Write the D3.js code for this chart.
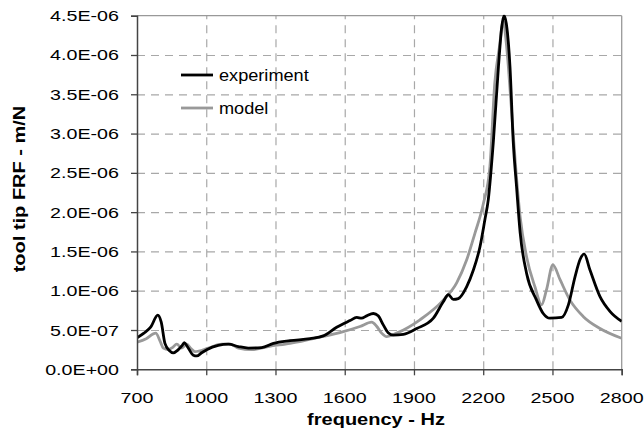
<!DOCTYPE html>
<html><head><meta charset="utf-8">
<script src="https://cdn.jsdelivr.net/npm/d3@7"></script>
<style>body{margin:0;background:#fff}svg{display:block}text{font-family:"Liberation Sans",Arial,sans-serif;fill:#000}</style>
</head><body><svg id="c" width="644" height="435"></svg>
<script>
const expFreq = [700,730,760,790,805,821,840,857,879,895,905,920,944,959,980,1002,1052,1096,1139,1182,1240,1291,1363,1450,1507,1565,1623,1652,1673,1695,1724,1745,1767,1788,1810,1854,1912,1984,2027,2049,2070,2092,2128,2157,2186,2207,2222,2244,2266,2280,2290,2300,2316,2330,2345,2360,2388,2431,2460,2489,2540,2569,2598,2620,2637,2663,2706,2750,2800];
const expVal = [4.0e-7,4.6e-7,5.4e-7,6.9e-7,6.0e-7,3.3e-7,2.4e-7,2.1e-7,2.5e-7,3.0e-7,3.4e-7,2.8e-7,1.8e-7,1.7e-7,2.1e-7,2.5e-7,3.05e-7,3.2e-7,2.9e-7,2.7e-7,2.75e-7,3.3e-7,3.65e-7,3.9e-7,4.25e-7,5.35e-7,6.2e-7,6.6e-7,6.5e-7,6.8e-7,7.1e-7,6.8e-7,5.65e-7,4.65e-7,4.35e-7,4.45e-7,5.2e-7,6.5e-7,8.6e-7,9.5e-7,8.9e-7,9.0e-7,1.05e-6,1.26e-6,1.56e-6,1.90e-6,2.16e-6,2.9e-6,3.85e-6,4.35e-6,4.5e-6,4.4e-6,3.85e-6,2.9e-6,2.3e-6,1.74e-6,1.22e-6,8.8e-7,7.1e-7,6.5e-7,6.6e-7,8.2e-7,1.18e-6,1.40e-6,1.47e-6,1.26e-6,9.25e-7,7.35e-7,6.1e-7];
const modFreq = [700,740,781,800,814,836,855,872,894,915,935,951,1009,1067,1103,1139,1197,1269,1363,1493,1594,1666,1717,1739,1760,1782,1825,1926,2027,2085,2128,2164,2200,2229,2250,2270,2287,2300,2309,2325,2340,2360,2388,2424,2453,2474,2502,2533,2576,2634,2706,2800];
const modVal = [3.45e-7,3.9e-7,4.6e-7,3.6e-7,2.7e-7,2.5e-7,2.8e-7,3.2e-7,2.7e-7,3.2e-7,2.6e-7,2.25e-7,2.7e-7,3.2e-7,3.2e-7,2.7e-7,2.5e-7,2.9e-7,3.3e-7,4.1e-7,4.8e-7,5.45e-7,6.0e-7,5.45e-7,4.6e-7,4.15e-7,4.6e-7,6.3e-7,8.8e-7,1.1e-6,1.39e-6,1.73e-6,2.1e-6,2.58e-6,3.64e-6,4.1e-6,4.43e-6,4.15e-6,3.85e-6,3.2e-6,2.6e-6,1.94e-6,1.43e-6,1.05e-6,8.2e-7,1.01e-6,1.33e-6,1.14e-6,8.8e-7,6.7e-7,5.2e-7,3.95e-7];
const xTicks = [700,1000,1300,1600,1900,2200,2500,2800];
const yTicks = [0,5e-7,1e-6,1.5e-6,2e-6,2.5e-6,3e-6,3.5e-6,4e-6,4.5e-6];
const yTickLabels = ["0.0E+00","5.0E-07","1.0E-06","1.5E-06","2.0E-06","2.5E-06","3.0E-06","3.5E-06","4.0E-06","4.5E-06"];
const seriesNames = ["experiment","model"];
const seriesColors = ["#000000","#999999"];

const svg = d3.select("#c");
const L=137, R=621.7, T=15.7, B=369.3;
const x = d3.scaleLinear().domain([700,2800]).range([L,R]);
const y = d3.scaleLinear().domain([0,4.5e-6]).range([B,T]);
const SX = 1.27;

// grid via axes
svg.append("g").attr("class","grid").attr("transform",`translate(${L},0)`)
  .call(d3.axisLeft(y).tickValues(yTicks.slice(1,-1)).tickSize(-(R-L)).tickFormat(""));
svg.append("g").attr("class","grid").attr("transform",`translate(0,${B})`)
  .call(d3.axisBottom(x).tickValues(xTicks.slice(1,-1)).tickSize(-(B-T)).tickFormat(""));
svg.selectAll(".grid .domain").remove();
svg.selectAll(".grid .tick line").attr("stroke","#a8a8a8").attr("stroke-width",1.2).attr("stroke-dasharray","8,6");

// top/right border
svg.append("line").attr("x1",L).attr("x2",R).attr("y1",T).attr("y2",T).attr("stroke","#999").attr("stroke-width",1.3);
svg.append("line").attr("x1",R).attr("x2",R).attr("y1",T).attr("y2",B).attr("stroke","#999").attr("stroke-width",1.3);

// lines
const line = (fr,vals)=>d3.line().curve(d3.curveMonotoneX).x((d,i)=>x(fr[i])).y(d=>y(d))(vals);
svg.append("clipPath").attr("id","cp").append("rect").attr("x",L).attr("y",T-1).attr("width",R-L).attr("height",B-T+1);
svg.append("path").attr("d",line(modFreq,modVal)).attr("fill","none").attr("stroke",seriesColors[1]).attr("stroke-width",2.8).attr("clip-path","url(#cp)");
svg.append("path").attr("d",line(expFreq,expVal)).attr("fill","none").attr("stroke",seriesColors[0]).attr("stroke-width",2.8).attr("clip-path","url(#cp)");

// axes
const xa = svg.append("g").attr("transform",`translate(0,${B})`).call(d3.axisBottom(x).tickValues(xTicks).tickSize(6).tickFormat(""));
const ya = svg.append("g").attr("transform",`translate(${L},0)`).call(d3.axisLeft(y).tickValues(yTicks).tickSize(6).tickFormat(""));
[xa,ya].forEach(a=>{a.select(".domain").attr("stroke","#444").attr("stroke-width",1.5);a.selectAll(".tick line").attr("stroke","#444").attr("stroke-width",1.3);});

// tick labels
svg.selectAll(".xl").data(xTicks).join("text")
 .attr("transform",d=>`translate(${x(d)},403) scale(${SX},1)`).attr("text-anchor","middle")
 .style("font-size","15.5px").text(d=>d);
svg.selectAll(".yl").data(yTicks).join("text")
 .attr("transform",d=>`translate(119,${y(d)+5.5}) scale(${SX},1)`).attr("text-anchor","end")
 .style("font-size","15.5px").text((d,i)=>yTickLabels[i]);

// axis titles
svg.append("text").attr("transform",`translate(376,425) scale(1.25,1)`).attr("text-anchor","middle")
 .style("font-size","16px").style("font-weight","bold").text("frequency - Hz");
svg.append("text").attr("transform",`translate(25,189) rotate(-90) scale(1.25,1)`).attr("text-anchor","middle")
 .style("font-size","16px").style("font-weight","bold").text("tool tip FRF - m/N");

// legend
const ly=[75,108];
seriesNames.forEach((n,i)=>{
  svg.append("line").attr("x1",181).attr("x2",213).attr("y1",ly[i]).attr("y2",ly[i]).attr("stroke",seriesColors[i]).attr("stroke-width",2.8);
  svg.append("text").attr("transform",`translate(219,${ly[i]+6}) scale(1.1,1)`).style("font-size","16.5px").text(n);
});
</script></body></html>
